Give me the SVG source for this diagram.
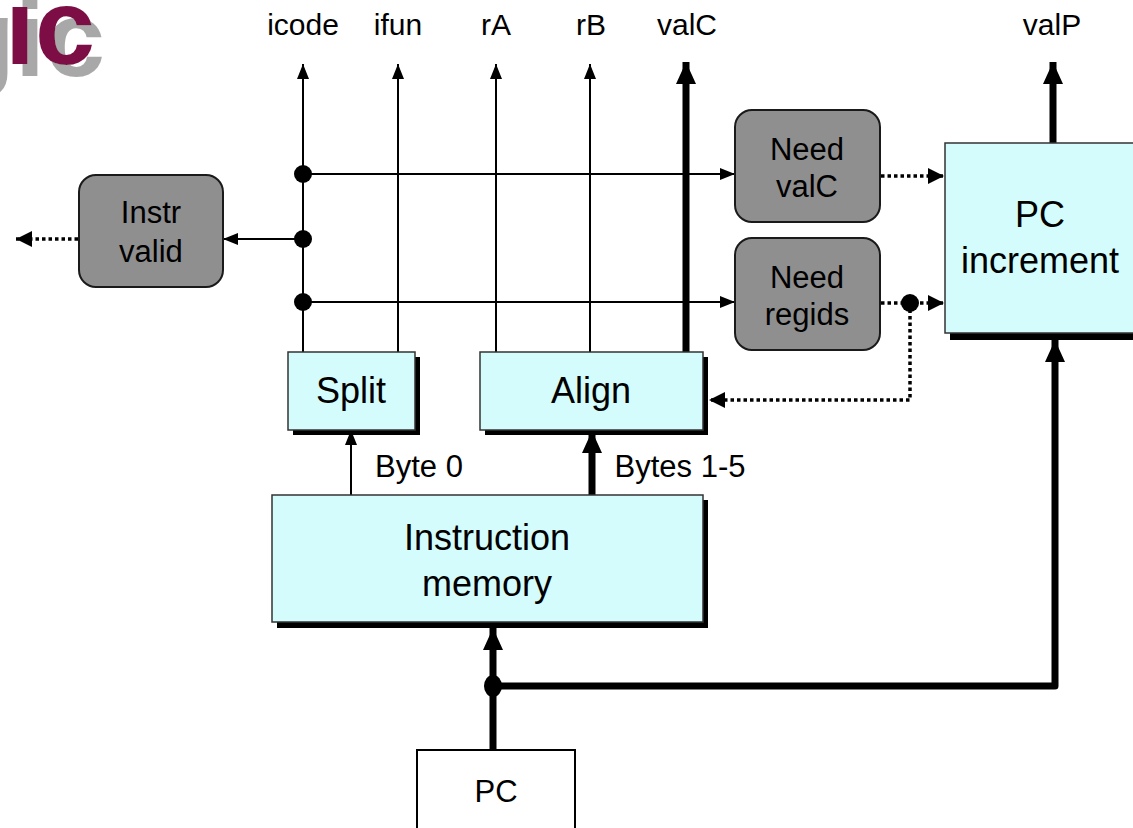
<svg xmlns="http://www.w3.org/2000/svg" width="1133" height="828" viewBox="0 0 1133 828">
  <style>
    text { font-family: "Liberation Sans", Arial, Helvetica, sans-serif; fill: #000; text-anchor: middle; }
    .lbl { font-size: 30px; }
    .gtxt { font-size: 31px; }
    .ctxt { font-size: 36px; }
    .gbox { fill: #8f8f8f; stroke: #1a1a1a; stroke-width: 2; }
    .cbox { fill: #d4fcfc; stroke: #333; stroke-width: 1.5; }
    .shadow { fill: #000; }
    .thin { stroke: #000; stroke-width: 2; fill: none; }
    .thick { stroke: #000; stroke-width: 7; fill: none; }
    .dot { stroke: #000; stroke-width: 3.5; stroke-dasharray: 3.5 3; fill: none; }
    .logo { font-family: "Liberation Sans", Arial, sans-serif; font-weight: bold; font-size: 108px; text-anchor: start; }
  </style>
  <defs>
    <marker id="aThin" markerUnits="userSpaceOnUse" markerWidth="15" markerHeight="12" refX="15" refY="6" orient="auto">
      <path d="M0,0 L15,6 L0,12 z" fill="#000"/>
    </marker>
    <marker id="aThick" markerUnits="userSpaceOnUse" markerWidth="22" markerHeight="20" refX="22" refY="10" orient="auto">
      <path d="M0,0 L22,10 L0,20 z" fill="#000"/>
    </marker>
    <marker id="aDot" markerUnits="userSpaceOnUse" markerWidth="16" markerHeight="16" refX="16" refY="8" orient="auto">
      <path d="M0,0 L16,8 L0,16 z" fill="#000"/>
    </marker>
    <filter id="logoShadow" x="-20%" y="-20%" width="150%" height="160%">
      <feFlood flood-color="#a8a8a8" result="g"/>
      <feComposite in="g" in2="SourceAlpha" operator="in" result="s"/>
      <feOffset in="s" dx="10" dy="12" result="so"/>
      <feMerge>
        <feMergeNode in="so"/>
        <feMergeNode in="SourceGraphic"/>
      </feMerge>
    </filter>
  </defs>
  <rect width="1133" height="828" fill="#fff"/>

  <g id="logo">
    <text class="logo" x="-61" y="64" style="fill:#7b1145" filter="url(#logoShadow)">gic</text>
  </g>

  <g id="top-labels">
    <text class="lbl" x="303" y="35">icode</text>
    <text class="lbl" x="398" y="35">ifun</text>
    <text class="lbl" x="496" y="35">rA</text>
    <text class="lbl" x="591" y="35">rB</text>
    <text class="lbl" x="687" y="35">valC</text>
    <text class="lbl" x="1052" y="35">valP</text>
  </g>

  <g id="connectors">
    <line class="thin" x1="303" y1="352" x2="303" y2="64" marker-end="url(#aThin)"/>
    <line class="thin" x1="398" y1="352" x2="398" y2="64" marker-end="url(#aThin)"/>
    <line class="thin" x1="496" y1="352" x2="496" y2="64" marker-end="url(#aThin)"/>
    <line class="thin" x1="590" y1="352" x2="590" y2="64" marker-end="url(#aThin)"/>
    <line class="thick" x1="686" y1="352" x2="686" y2="62" marker-end="url(#aThick)"/>
    <line class="thick" x1="1053" y1="143" x2="1053" y2="62" marker-end="url(#aThick)"/>
    <line class="thin" x1="303" y1="174" x2="735" y2="174" marker-end="url(#aThin)"/>
    <line class="thin" x1="303" y1="239" x2="223" y2="239" marker-end="url(#aThin)"/>
    <line class="thin" x1="303" y1="302" x2="735" y2="302" marker-end="url(#aThin)"/>
    <line class="dot" x1="881" y1="176" x2="944" y2="176" marker-end="url(#aDot)"/>
    <line class="dot" x1="881" y1="303" x2="944" y2="303" marker-end="url(#aDot)"/>
    <polyline class="dot" points="910,303 910,400 709,400" marker-end="url(#aDot)"/>
    <line class="dot" x1="78" y1="239" x2="16" y2="239" marker-end="url(#aDot)"/>
    <line class="thin" x1="351" y1="495" x2="351" y2="430" marker-end="url(#aThin)"/>
    <line class="thick" x1="592" y1="495" x2="592" y2="431" marker-end="url(#aThick)"/>
    <line class="thick" x1="493" y1="750" x2="493" y2="628" marker-end="url(#aThick)"/>
    <polyline class="thick" points="493,686 1055,686 1055,340" marker-end="url(#aThick)" stroke-linejoin="round"/>
    <circle cx="303" cy="174" r="9" fill="#000"/>
    <circle cx="303" cy="239" r="9" fill="#000"/>
    <circle cx="303" cy="302" r="9" fill="#000"/>
    <circle cx="910" cy="303" r="9" fill="#000"/>
    <ellipse cx="493" cy="686" rx="9" ry="11" fill="#000"/>
    <text class="gtxt" x="419" y="477">Byte 0</text>
    <text class="gtxt" x="680" y="477">Bytes 1-5</text>
  </g>

  <g id="instr-valid">
    <rect class="gbox" x="79" y="175" width="144" height="112" rx="17"/>
    <text class="gtxt" x="151" y="223">Instr</text>
    <text class="gtxt" x="151" y="262">valid</text>
  </g>

  <g id="need-valc">
    <rect class="gbox" x="735" y="110" width="145" height="112" rx="17"/>
    <text class="gtxt" x="807" y="160">Need</text>
    <text class="gtxt" x="807" y="197">valC</text>
  </g>

  <g id="need-regids">
    <rect class="gbox" x="735" y="238" width="145" height="112" rx="17"/>
    <text class="gtxt" x="807" y="288">Need</text>
    <text class="gtxt" x="807" y="325">regids</text>
  </g>

  <g id="pc-increment">
    <rect class="shadow" x="950" y="148" width="190" height="192"/>
    <rect class="cbox" x="945" y="143" width="195" height="190"/>
    <text class="ctxt" x="1040" y="227">PC</text>
    <text class="ctxt" x="1040" y="273">increment</text>
  </g>

  <g id="split">
    <rect class="shadow" x="293" y="357" width="127" height="78"/>
    <rect class="cbox" x="288" y="352" width="127" height="78"/>
    <text class="ctxt" x="351" y="403">Split</text>
  </g>

  <g id="align">
    <rect class="shadow" x="485" y="357" width="223" height="78"/>
    <rect class="cbox" x="480" y="352" width="223" height="78"/>
    <text class="ctxt" x="591" y="403">Align</text>
  </g>

  <g id="instruction-memory">
    <rect class="shadow" x="277" y="500" width="431" height="128"/>
    <rect class="cbox" x="272" y="495" width="431" height="127"/>
    <text class="ctxt" x="487" y="550">Instruction</text>
    <text class="ctxt" x="487" y="596">memory</text>
  </g>

  <g id="pc">
    <rect x="417" y="750" width="158" height="90" fill="#fff" stroke="#000" stroke-width="2"/>
    <text class="gtxt" x="496" y="802">PC</text>
  </g>
</svg>
